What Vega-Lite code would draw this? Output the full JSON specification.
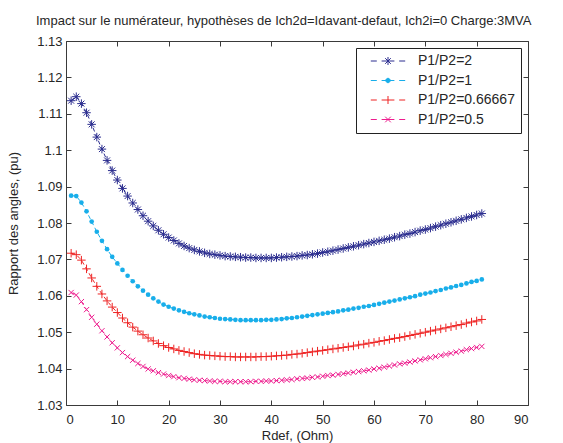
{
"$schema":"https://vega.github.io/schema/vega-lite/v6.json",
"width":462,"height":364,
"autosize":{"type":"none"},
"padding":{"left":66,"top":41,"right":35,"bottom":38},
"title":{"text":"Impact sur le numérateur, hypothèses de Ich2d=Idavant-defaut, Ich2i=0 Charge:3MVA","anchor":"start","frame":"group","dx":-30,"dy":21,"offset":18,"baseline":"alphabetic","font":"Liberation Sans","fontSize":13,"fontWeight":"normal","color":"#262626"},
"config":{
"view":{"stroke":null},
"axis":{"grid":false,"labelFont":"Liberation Sans","labelFontSize":13,"labelColor":"#262626","titleFont":"Liberation Sans","titleFontSize":13,"titleFontWeight":"normal","titleColor":"#262626","domainColor":"#3a3a3a","tickColor":"#3a3a3a","tickSize":-5,"domainWidth":1,"tickWidth":1},
"legend":{"orient":"top-right","offset":7,"padding":6,"strokeColor":"#222222","fillColor":"white","labelFontSize":14,"labelFont":"Liberation Sans","labelColor":"#262626","symbolOffset":19,"labelOffset":23,"rowPadding":5.5,"symbolSize":64}
},
"data":{"values":[
{"s":"2","r":1,"v":1.1136},{"s":"2","r":2,"v":1.1147},{"s":"2","r":3,"v":1.1128},{"s":"2","r":4,"v":1.1103},{"s":"2","r":5,"v":1.1071},{"s":"2","r":6,"v":1.1036},{"s":"2","r":7,"v":1.1003},{"s":"2","r":8,"v":1.0972},{"s":"2","r":9,"v":1.0944},{"s":"2","r":10,"v":1.0918},
{"s":"2","r":11,"v":1.0895},{"s":"2","r":12,"v":1.0874},{"s":"2","r":13,"v":1.0855},{"s":"2","r":14,"v":1.0837},{"s":"2","r":15,"v":1.0820},{"s":"2","r":16,"v":1.0805},{"s":"2","r":17,"v":1.0792},{"s":"2","r":18,"v":1.0780},{"s":"2","r":19,"v":1.0769},{"s":"2","r":20,"v":1.0760},
{"s":"2","r":21,"v":1.0752},{"s":"2","r":22,"v":1.0744},{"s":"2","r":23,"v":1.0737},{"s":"2","r":24,"v":1.0731},{"s":"2","r":25,"v":1.0726},{"s":"2","r":26,"v":1.0722},{"s":"2","r":27,"v":1.0718},{"s":"2","r":28,"v":1.0715},{"s":"2","r":29,"v":1.0713},{"s":"2","r":30,"v":1.0711},
{"s":"2","r":31,"v":1.0709},{"s":"2","r":32,"v":1.0708},{"s":"2","r":33,"v":1.0707},{"s":"2","r":34,"v":1.0706},{"s":"2","r":35,"v":1.0705},{"s":"2","r":36,"v":1.0705},{"s":"2","r":37,"v":1.0704},{"s":"2","r":38,"v":1.0704},{"s":"2","r":39,"v":1.0704},{"s":"2","r":40,"v":1.0704},
{"s":"2","r":41,"v":1.0705},{"s":"2","r":42,"v":1.0706},{"s":"2","r":43,"v":1.0707},{"s":"2","r":44,"v":1.0708},{"s":"2","r":45,"v":1.0709},{"s":"2","r":46,"v":1.0711},{"s":"2","r":47,"v":1.0712},{"s":"2","r":48,"v":1.0714},{"s":"2","r":49,"v":1.0716},{"s":"2","r":50,"v":1.0719},
{"s":"2","r":51,"v":1.0721},{"s":"2","r":52,"v":1.0724},{"s":"2","r":53,"v":1.0727},{"s":"2","r":54,"v":1.0730},{"s":"2","r":55,"v":1.0733},{"s":"2","r":56,"v":1.0736},{"s":"2","r":57,"v":1.0739},{"s":"2","r":58,"v":1.0742},{"s":"2","r":59,"v":1.0745},{"s":"2","r":60,"v":1.0748},
{"s":"2","r":61,"v":1.0751},{"s":"2","r":62,"v":1.0754},{"s":"2","r":63,"v":1.0757},{"s":"2","r":64,"v":1.0761},{"s":"2","r":65,"v":1.0764},{"s":"2","r":66,"v":1.0768},{"s":"2","r":67,"v":1.0771},{"s":"2","r":68,"v":1.0775},{"s":"2","r":69,"v":1.0779},{"s":"2","r":70,"v":1.0782},
{"s":"2","r":71,"v":1.0786},{"s":"2","r":72,"v":1.0790},{"s":"2","r":73,"v":1.0794},{"s":"2","r":74,"v":1.0798},{"s":"2","r":75,"v":1.0802},{"s":"2","r":76,"v":1.0806},{"s":"2","r":77,"v":1.0810},{"s":"2","r":78,"v":1.0814},{"s":"2","r":79,"v":1.0818},{"s":"2","r":80,"v":1.0822},{"s":"2","r":81,"v":1.0826},
{"s":"1","r":1,"v":1.0875},{"s":"1","r":2,"v":1.0874},{"s":"1","r":3,"v":1.0856},{"s":"1","r":4,"v":1.0832},{"s":"1","r":5,"v":1.0804},{"s":"1","r":6,"v":1.0776},{"s":"1","r":7,"v":1.0751},{"s":"1","r":8,"v":1.0728},{"s":"1","r":9,"v":1.0707},{"s":"1","r":10,"v":1.0689},
{"s":"1","r":11,"v":1.0671},{"s":"1","r":12,"v":1.0655},{"s":"1","r":13,"v":1.0640},{"s":"1","r":14,"v":1.0626},{"s":"1","r":15,"v":1.0614},{"s":"1","r":16,"v":1.0603},{"s":"1","r":17,"v":1.0593},{"s":"1","r":18,"v":1.0584},{"s":"1","r":19,"v":1.0576},{"s":"1","r":20,"v":1.0570},
{"s":"1","r":21,"v":1.0565},{"s":"1","r":22,"v":1.0560},{"s":"1","r":23,"v":1.0556},{"s":"1","r":24,"v":1.0552},{"s":"1","r":25,"v":1.0549},{"s":"1","r":26,"v":1.0546},{"s":"1","r":27,"v":1.0543},{"s":"1","r":28,"v":1.0541},{"s":"1","r":29,"v":1.0539},{"s":"1","r":30,"v":1.0537},
{"s":"1","r":31,"v":1.0536},{"s":"1","r":32,"v":1.0535},{"s":"1","r":33,"v":1.0534},{"s":"1","r":34,"v":1.0533},{"s":"1","r":35,"v":1.0533},{"s":"1","r":36,"v":1.0533},{"s":"1","r":37,"v":1.0533},{"s":"1","r":38,"v":1.0533},{"s":"1","r":39,"v":1.0534},{"s":"1","r":40,"v":1.0534},
{"s":"1","r":41,"v":1.0535},{"s":"1","r":42,"v":1.0536},{"s":"1","r":43,"v":1.0538},{"s":"1","r":44,"v":1.0539},{"s":"1","r":45,"v":1.0541},{"s":"1","r":46,"v":1.0543},{"s":"1","r":47,"v":1.0545},{"s":"1","r":48,"v":1.0547},{"s":"1","r":49,"v":1.0549},{"s":"1","r":50,"v":1.0551},
{"s":"1","r":51,"v":1.0553},{"s":"1","r":52,"v":1.0555},{"s":"1","r":53,"v":1.0557},{"s":"1","r":54,"v":1.0560},{"s":"1","r":55,"v":1.0562},{"s":"1","r":56,"v":1.0565},{"s":"1","r":57,"v":1.0567},{"s":"1","r":58,"v":1.0570},{"s":"1","r":59,"v":1.0572},{"s":"1","r":60,"v":1.0575},
{"s":"1","r":61,"v":1.0578},{"s":"1","r":62,"v":1.0581},{"s":"1","r":63,"v":1.0584},{"s":"1","r":64,"v":1.0587},{"s":"1","r":65,"v":1.0590},{"s":"1","r":66,"v":1.0593},{"s":"1","r":67,"v":1.0596},{"s":"1","r":68,"v":1.0599},{"s":"1","r":69,"v":1.0603},{"s":"1","r":70,"v":1.0606},
{"s":"1","r":71,"v":1.0609},{"s":"1","r":72,"v":1.0613},{"s":"1","r":73,"v":1.0616},{"s":"1","r":74,"v":1.0620},{"s":"1","r":75,"v":1.0623},{"s":"1","r":76,"v":1.0627},{"s":"1","r":77,"v":1.0630},{"s":"1","r":78,"v":1.0634},{"s":"1","r":79,"v":1.0638},{"s":"1","r":80,"v":1.0641},{"s":"1","r":81,"v":1.0645},
{"s":"0.66667","r":1,"v":1.0717},{"s":"0.66667","r":2,"v":1.0713},{"s":"0.66667","r":3,"v":1.0698},{"s":"0.66667","r":4,"v":1.0674},{"s":"0.66667","r":5,"v":1.0649},{"s":"0.66667","r":6,"v":1.0626},{"s":"0.66667","r":7,"v":1.0605},{"s":"0.66667","r":8,"v":1.0586},{"s":"0.66667","r":9,"v":1.0569},{"s":"0.66667","r":10,"v":1.0554},
{"s":"0.66667","r":11,"v":1.0539},{"s":"0.66667","r":12,"v":1.0526},{"s":"0.66667","r":13,"v":1.0514},{"s":"0.66667","r":14,"v":1.0503},{"s":"0.66667","r":15,"v":1.0493},{"s":"0.66667","r":16,"v":1.0484},{"s":"0.66667","r":17,"v":1.0476},{"s":"0.66667","r":18,"v":1.0469},{"s":"0.66667","r":19,"v":1.0463},{"s":"0.66667","r":20,"v":1.0458},
{"s":"0.66667","r":21,"v":1.0454},{"s":"0.66667","r":22,"v":1.0450},{"s":"0.66667","r":23,"v":1.0447},{"s":"0.66667","r":24,"v":1.0444},{"s":"0.66667","r":25,"v":1.0441},{"s":"0.66667","r":26,"v":1.0439},{"s":"0.66667","r":27,"v":1.0437},{"s":"0.66667","r":28,"v":1.0436},{"s":"0.66667","r":29,"v":1.0435},{"s":"0.66667","r":30,"v":1.0434},
{"s":"0.66667","r":31,"v":1.0433},{"s":"0.66667","r":32,"v":1.0433},{"s":"0.66667","r":33,"v":1.0432},{"s":"0.66667","r":34,"v":1.0432},{"s":"0.66667","r":35,"v":1.0432},{"s":"0.66667","r":36,"v":1.0432},{"s":"0.66667","r":37,"v":1.0432},{"s":"0.66667","r":38,"v":1.0433},{"s":"0.66667","r":39,"v":1.0433},{"s":"0.66667","r":40,"v":1.0434},
{"s":"0.66667","r":41,"v":1.0435},{"s":"0.66667","r":42,"v":1.0436},{"s":"0.66667","r":43,"v":1.0437},{"s":"0.66667","r":44,"v":1.0439},{"s":"0.66667","r":45,"v":1.0440},{"s":"0.66667","r":46,"v":1.0442},{"s":"0.66667","r":47,"v":1.0444},{"s":"0.66667","r":48,"v":1.0446},{"s":"0.66667","r":49,"v":1.0448},{"s":"0.66667","r":50,"v":1.0450},
{"s":"0.66667","r":51,"v":1.0452},{"s":"0.66667","r":52,"v":1.0454},{"s":"0.66667","r":53,"v":1.0456},{"s":"0.66667","r":54,"v":1.0458},{"s":"0.66667","r":55,"v":1.0460},{"s":"0.66667","r":56,"v":1.0462},{"s":"0.66667","r":57,"v":1.0465},{"s":"0.66667","r":58,"v":1.0467},{"s":"0.66667","r":59,"v":1.0470},{"s":"0.66667","r":60,"v":1.0472},
{"s":"0.66667","r":61,"v":1.0475},{"s":"0.66667","r":62,"v":1.0477},{"s":"0.66667","r":63,"v":1.0480},{"s":"0.66667","r":64,"v":1.0483},{"s":"0.66667","r":65,"v":1.0485},{"s":"0.66667","r":66,"v":1.0488},{"s":"0.66667","r":67,"v":1.0491},{"s":"0.66667","r":68,"v":1.0494},{"s":"0.66667","r":69,"v":1.0497},{"s":"0.66667","r":70,"v":1.0500},
{"s":"0.66667","r":71,"v":1.0503},{"s":"0.66667","r":72,"v":1.0506},{"s":"0.66667","r":73,"v":1.0509},{"s":"0.66667","r":74,"v":1.0512},{"s":"0.66667","r":75,"v":1.0515},{"s":"0.66667","r":76,"v":1.0518},{"s":"0.66667","r":77,"v":1.0521},{"s":"0.66667","r":78,"v":1.0525},{"s":"0.66667","r":79,"v":1.0528},{"s":"0.66667","r":80,"v":1.0531},{"s":"0.66667","r":81,"v":1.0535},
{"s":"0.5","r":1,"v":1.0609},{"s":"0.5","r":2,"v":1.0602},{"s":"0.5","r":3,"v":1.0584},{"s":"0.5","r":4,"v":1.0562},{"s":"0.5","r":5,"v":1.0541},{"s":"0.5","r":6,"v":1.0522},{"s":"0.5","r":7,"v":1.0504},{"s":"0.5","r":8,"v":1.0487},{"s":"0.5","r":9,"v":1.0471},{"s":"0.5","r":10,"v":1.0457},
{"s":"0.5","r":11,"v":1.0444},{"s":"0.5","r":12,"v":1.0433},{"s":"0.5","r":13,"v":1.0423},{"s":"0.5","r":14,"v":1.0414},{"s":"0.5","r":15,"v":1.0406},{"s":"0.5","r":16,"v":1.0399},{"s":"0.5","r":17,"v":1.0394},{"s":"0.5","r":18,"v":1.0389},{"s":"0.5","r":19,"v":1.0385},{"s":"0.5","r":20,"v":1.0381},
{"s":"0.5","r":21,"v":1.0378},{"s":"0.5","r":22,"v":1.0375},{"s":"0.5","r":23,"v":1.0373},{"s":"0.5","r":24,"v":1.0371},{"s":"0.5","r":25,"v":1.0369},{"s":"0.5","r":26,"v":1.0368},{"s":"0.5","r":27,"v":1.0367},{"s":"0.5","r":28,"v":1.0366},{"s":"0.5","r":29,"v":1.0365},{"s":"0.5","r":30,"v":1.0365},
{"s":"0.5","r":31,"v":1.0364},{"s":"0.5","r":32,"v":1.0364},{"s":"0.5","r":33,"v":1.0364},{"s":"0.5","r":34,"v":1.0364},{"s":"0.5","r":35,"v":1.0364},{"s":"0.5","r":36,"v":1.0364},{"s":"0.5","r":37,"v":1.0365},{"s":"0.5","r":38,"v":1.0365},{"s":"0.5","r":39,"v":1.0366},{"s":"0.5","r":40,"v":1.0366},
{"s":"0.5","r":41,"v":1.0367},{"s":"0.5","r":42,"v":1.0368},{"s":"0.5","r":43,"v":1.0369},{"s":"0.5","r":44,"v":1.0370},{"s":"0.5","r":45,"v":1.0372},{"s":"0.5","r":46,"v":1.0373},{"s":"0.5","r":47,"v":1.0374},{"s":"0.5","r":48,"v":1.0376},{"s":"0.5","r":49,"v":1.0377},{"s":"0.5","r":50,"v":1.0379},
{"s":"0.5","r":51,"v":1.0381},{"s":"0.5","r":52,"v":1.0382},{"s":"0.5","r":53,"v":1.0384},{"s":"0.5","r":54,"v":1.0386},{"s":"0.5","r":55,"v":1.0388},{"s":"0.5","r":56,"v":1.0390},{"s":"0.5","r":57,"v":1.0392},{"s":"0.5","r":58,"v":1.0394},{"s":"0.5","r":59,"v":1.0396},{"s":"0.5","r":60,"v":1.0399},
{"s":"0.5","r":61,"v":1.0401},{"s":"0.5","r":62,"v":1.0404},{"s":"0.5","r":63,"v":1.0407},{"s":"0.5","r":64,"v":1.0410},{"s":"0.5","r":65,"v":1.0413},{"s":"0.5","r":66,"v":1.0415},{"s":"0.5","r":67,"v":1.0418},{"s":"0.5","r":68,"v":1.0421},{"s":"0.5","r":69,"v":1.0424},{"s":"0.5","r":70,"v":1.0427},
{"s":"0.5","r":71,"v":1.0430},{"s":"0.5","r":72,"v":1.0433},{"s":"0.5","r":73,"v":1.0436},{"s":"0.5","r":74,"v":1.0439},{"s":"0.5","r":75,"v":1.0442},{"s":"0.5","r":76,"v":1.0445},{"s":"0.5","r":77,"v":1.0448},{"s":"0.5","r":78,"v":1.0452},{"s":"0.5","r":79,"v":1.0455},{"s":"0.5","r":80,"v":1.0458},{"s":"0.5","r":81,"v":1.0461}
]},
"resolve":{"axis":{"x":"independent","y":"independent"}},
"layer":[
{"mark":{"type":"line","strokeWidth":1,"strokeDash":[4,3]},
 "encoding":{
  "x":{"field":"r","type":"quantitative","scale":{"domain":[0,90],"nice":false,"zero":false},"axis":{"orient":"bottom","values":[0,10,20,30,40,50,60,70,80,90],"title":"Rdef, (Ohm)","labelPadding":13,"titlePadding":3}},
  "y":{"field":"v","type":"quantitative","scale":{"domain":[1.03,1.13],"nice":false,"zero":false},"axis":{"orient":"left","values":[1.03,1.04,1.05,1.06,1.07,1.08,1.09,1.1,1.11,1.12,1.13],"format":".2~f","title":"Rapport des angles, (pu)","labelPadding":9,"titlePadding":16}},
  "color":{"field":"s","type":"nominal","scale":{"domain":["2","1","0.66667","0.5"],"range":["#2b2d8f","#18aeea","#ee2222","#ee1c8e"]},
   "legend":{"title":null,"labelExpr":"'P1/P2=' + datum.label",
    "encode":{"symbols":{"update":{
      "shape":{"signal":"datum.value === '2' ? 'M-4.3,0L-2.8,0M-1.6,0L1.6,0M2.8,0L4.3,0M0,-1L0,1M-0.7,-0.7L0.7,0.7M-0.7,0.7L0.7,-0.7' : datum.value === '1' ? 'M-4.3,0L-2.8,0M-1.6,0L1.6,0M2.8,0L4.3,0M0.55,0A0.55,0.55 0 1,1 -0.55,0A0.55,0.55 0 1,1 0.55,0Z' : datum.value === '0.66667' ? 'M-4.3,0L-2.8,0M-1.6,0L1.6,0M2.8,0L4.3,0M0,-1L0,1' : 'M-4.3,0L-2.8,0M-1.6,0L1.6,0M2.8,0L4.3,0M-0.7,-0.7L0.7,0.7M-0.7,0.7L0.7,-0.7'"},
      "stroke":{"scale":"color","field":"value"},
      "fill":{"signal":"datum.value === '1' ? '#18aeea' : 'transparent'"},
      "strokeWidth":{"value":1},
      "strokeDash":{"value":[]},
      "size":{"value":64},
      "opacity":{"value":1}
    }}}}}
 }},
{"transform":[{"filter":"datum.s === '2'"}],
 "mark":{"type":"point","filled":false,"strokeWidth":1,"opacity":1,"size":72,"shape":"M-1,0L1,0M0,-1L0,1M-0.7,-0.7L0.7,0.7M-0.7,0.7L0.7,-0.7"},
 "encoding":{
  "x":{"field":"r","type":"quantitative","axis":{"orient":"top","labels":false,"title":null,"values":[0,10,20,30,40,50,60,70,80,90]}},
  "y":{"field":"v","type":"quantitative","axis":{"orient":"right","labels":false,"title":null,"values":[1.03,1.04,1.05,1.06,1.07,1.08,1.09,1.1,1.11,1.12,1.13]}},
  "color":{"field":"s","type":"nominal"}
 }},
{"transform":[{"filter":"datum.s === '1'"}],
 "mark":{"type":"point","filled":true,"shape":"circle","size":22,"opacity":1},
 "encoding":{
  "x":{"field":"r","type":"quantitative","axis":null},
  "y":{"field":"v","type":"quantitative","axis":null},
  "color":{"field":"s","type":"nominal"}
 }},
{"transform":[{"filter":"datum.s === '0.66667'"}],
 "mark":{"type":"point","filled":false,"strokeWidth":1,"opacity":1,"size":72,"shape":"M-1,0L1,0M0,-1L0,1"},
 "encoding":{
  "x":{"field":"r","type":"quantitative","axis":null},
  "y":{"field":"v","type":"quantitative","axis":null},
  "color":{"field":"s","type":"nominal"}
 }},
{"transform":[{"filter":"datum.s === '0.5'"}],
 "mark":{"type":"point","filled":false,"strokeWidth":1,"opacity":1,"size":56,"shape":"M-0.7,-0.7L0.7,0.7M-0.7,0.7L0.7,-0.7"},
 "encoding":{
  "x":{"field":"r","type":"quantitative","axis":null},
  "y":{"field":"v","type":"quantitative","axis":null},
  "color":{"field":"s","type":"nominal"}
 }}
]
}
